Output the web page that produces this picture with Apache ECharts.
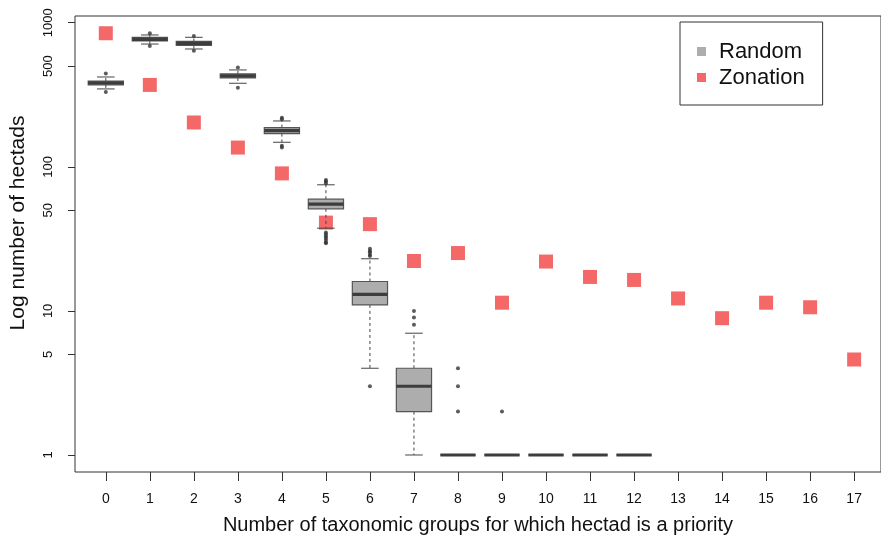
<!DOCTYPE html>
<html><head><meta charset="utf-8">
<script src="https://cdn.jsdelivr.net/npm/echarts@6/dist/echarts.min.js"></script>
<style>html,body{margin:0;padding:0;background:#fff}#c{width:881px;height:541px}</style>
</head><body><div id="c"></div>
<script>
// ---- data ----
const groups = [0,1,2,3,4,5,6,7,8,9,10,11,12,13,14,15,16,17];
const yTicks = [1,5,10,50,100,500,1000];
const randomGroups = [0,1,2,3,4,5,6,7,8,9,10,11,12];
const randomLow    = [347, 711, 657, 380, 148, 37.5, 4, 1, 1, 1, 1, 1, 1];
const randomQ1     = [370, 747, 695, 414, 170, 51.1, 11, 2, 1, 1, 1, 1, 1];
const randomMedian = [382, 767, 719, 427, 178, 55, 13, 3, 1, 1, 1, 1, 1];
const randomQ3     = [394, 791, 741, 441, 187, 59.6, 16, 4, 1, 1, 1, 1, 1];
const randomHigh   = [420, 822, 792, 470, 208, 75, 23, 7, 1, 1, 1, 1, 1];
const outlierGroups = [0,0, 1,1, 2,2, 3,3, 4,4,4,4, 5,5,5,5,5,5,5,5,5,5, 6,6,6,6,6,6, 7,7,7, 8,8,8, 9];
const outlierValues = [444,331, 845,689, 809,640, 488,354, 219,214,140,136,
  81,79,77,35,34,33,32,31,30,29.5, 27,26,25.5,24.5,24,3, 10,9,8, 4,3,2, 2];
const zonation = [845, 370, 203, 136, 90, 41, 40, 22.2, 25.2, 11.4, 22, 17.2, 16.4, 12.2, 8.9, 11.4, 10.6, 4.6];

// ---- build ----
const boxData = randomGroups.map((g,i)=>[g, randomLow[i], randomQ1[i], randomMedian[i], randomQ3[i], randomHigh[i]]);
const outData = outlierGroups.map((g,i)=>[g, outlierValues[i]]);
const zonData = groups.map((g,i)=>[g, zonation[i]]);

const FONT = 'Liberation Sans, Arial, sans-serif';
const chart = echarts.init(document.getElementById('c'), null, {renderer:'canvas'});

function renderBox(params, api){
  const x = api.value(0);
  const pLow = api.coord([x, api.value(1)]);
  const pQ1 = api.coord([x, api.value(2)]);
  const pMed = api.coord([x, api.value(3)]);
  const pQ3 = api.coord([x, api.value(4)]);
  const pHigh = api.coord([x, api.value(5)]);
  const band = api.coord([x+0.5, api.value(3)])[0] - api.coord([x-0.5, api.value(3)])[0];
  const bw = band*0.8, cw = band*0.4;
  const cx = pMed[0];
  const dash = {stroke:'#444', lineWidth:1, lineDash:[3,3]};
  const solid = {stroke:'#444', lineWidth:1};
  return {type:'group', children:[
    {type:'line', shape:{x1:cx,y1:pQ3[1],x2:cx,y2:pHigh[1]}, style:dash},
    {type:'line', shape:{x1:cx,y1:pQ1[1],x2:cx,y2:pLow[1]}, style:dash},
    {type:'line', shape:{x1:cx-cw/2,y1:pHigh[1],x2:cx+cw/2,y2:pHigh[1]}, style:solid},
    {type:'line', shape:{x1:cx-cw/2,y1:pLow[1],x2:cx+cw/2,y2:pLow[1]}, style:solid},
    {type:'rect', shape:{x:cx-bw/2,y:pQ3[1],width:bw,height:pQ1[1]-pQ3[1]}, style:{fill:'#adadad', stroke:'#555', lineWidth:1.2}},
    {type:'line', shape:{x1:cx-bw/2,y1:pMed[1],x2:cx+bw/2,y2:pMed[1]}, style:{stroke:'#3d3d3d', lineWidth:3.2}}
  ]};
}

chart.setOption({
  animation:false,
  backgroundColor:'#fff',
  textStyle:{fontFamily:FONT},
  grid:{left:73, right:-2, top:16, bottom:69, show:true, borderColor:'#333', borderWidth:1, containLabel:false},
  legend:{
    orient:'vertical', left:680, top:22,
    padding:[18,18,16,17], itemGap:3,
    itemWidth:9, itemHeight:9,
    borderColor:'#333', borderWidth:1, backgroundColor:'#fff',
    textStyle:{fontSize:22, color:'#111', fontFamily:FONT, lineHeight:23, padding:[0,0,0,8]},
    data:[
      {name:'Random', icon:'rect', itemStyle:{color:'#adadad', borderWidth:0}},
      {name:'Zonation', icon:'rect', itemStyle:{color:'#f46868', borderWidth:0}}
    ]
  },
  xAxis:{
    type:'value', min:-0.70, max:17.61,
    name:'Number of taxonomic groups for which hectad is a priority',
    nameLocation:'middle', nameGap:43,
    nameTextStyle:{fontSize:20, color:'#111', fontFamily:FONT},
    axisLine:{show:false, onZero:false},
    splitLine:{show:false},
    axisTick:{show:true, length:9, lineStyle:{color:'#333'}, customValues:groups},
    axisLabel:{fontSize:14, color:'#111', margin:20, customValues:groups, formatter:v=>String(v)}
  },
  yAxis:{
    type:'log', logBase:10, min:0.762, max:1113,
    name:'Log number of hectads',
    nameLocation:'middle', nameGap:46, nameRotate:90,
    nameTextStyle:{fontSize:21, color:'#111', fontFamily:FONT, padding:[0,0,0,42]},
    axisLine:{show:false, onZero:false},
    splitLine:{show:false},
    axisTick:{show:true, length:7, lineStyle:{color:'#333'}, customValues:yTicks},
    axisLabel:{fontSize:13, color:'#111', rotate:90, margin:20, customValues:yTicks, formatter:v=>String(v)}
  },
  series:[
    {name:'Zonation', type:'scatter', data:zonData, symbol:'rect', symbolSize:14,
     itemStyle:{color:'#f46868', opacity:1}, z:2},
    {name:'Random', type:'custom', data:boxData, renderItem:renderBox,
     itemStyle:{color:'#adadad'}, z:3, encode:{x:0, y:[1,2,3,4,5]}},
    {name:'outliers', type:'scatter', data:outData, symbol:'circle', symbolSize:4,
     itemStyle:{color:'#333'}, z:4}
  ]
});
</script></body></html>
